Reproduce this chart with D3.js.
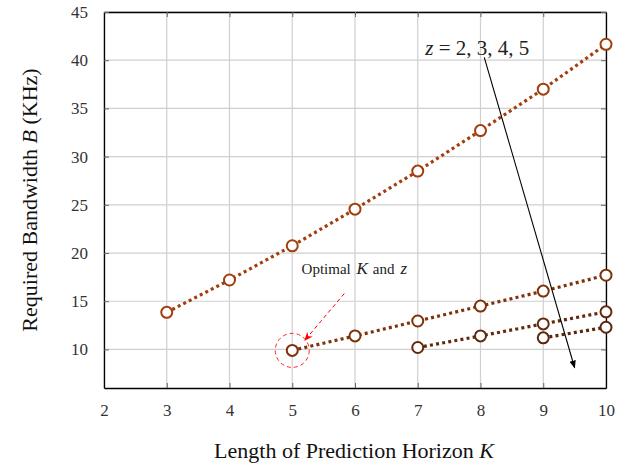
<!DOCTYPE html>
<html>
<head>
<meta charset="utf-8">
<script src="https://cdn.jsdelivr.net/npm/d3@7"></script>
<style>
  body { margin: 0; background: #fff; }
  text { font-family: "Liberation Serif", "DejaVu Serif", serif; fill: #222; }
</style>
</head>
<body>
<svg id="chart" width="633" height="466"></svg>
<script>
// horizon K per series, bandwidth B per series (z = 2,3,4,5)
var kz2=[3,4,5,6,7,8,9,10];
var bz2=[13.85,17.2,20.75,24.55,28.5,32.7,37.0,41.65];
var kz3=[5,6,7,8,9,10];
var bz3=[9.9,11.4,12.95,14.5,16.05,17.7];
var kz4=[7,8,9,10];
var bz4=[10.2,11.4,12.65,13.9];
var kz5=[9,10];
var bz5=[11.2,12.3];

var xticks=[2,3,4,5,6,7,8,9,10];
var yticks=[10,15,20,25,30,35,40,45];
var colors=["#a23e0d","#7e320c","#64290c","#5a260c"];

var series=[
  {k:kz2,b:bz2},
  {k:kz3,b:bz3},
  {k:kz4,b:bz4},
  {k:kz5,b:bz5}
];

var svg=d3.select("#chart");
var pl=104,pr=606,pt=12,pb=388;

var x=d3.scaleLinear().domain([2,10]).range([pl,pr]);
var y=d3.scaleLinear().domain([6,45]).range([pb,pt]);

// grid
svg.append("g").selectAll("line").data(xticks).enter().append("line")
  .attr("x1",function(d){return x(d)}).attr("x2",function(d){return x(d)})
  .attr("y1",pt).attr("y2",pb)
  .style("stroke","#cfcfcf").style("stroke-width",1.2);
svg.append("g").selectAll("line").data(yticks).enter().append("line")
  .attr("x1",pl).attr("x2",pr)
  .attr("y1",function(d){return y(d)}).attr("y2",function(d){return y(d)})
  .style("stroke","#cfcfcf").style("stroke-width",1.2);

// axes, ticks inward
var xb=svg.append("g").attr("transform","translate(0,"+pb+")")
  .call(d3.axisBottom(x).tickValues(xticks).tickSizeInner(-5).tickSizeOuter(0).tickPadding(16));
var xt=svg.append("g").attr("transform","translate(0,"+pt+")")
  .call(d3.axisTop(x).tickValues(xticks).tickSizeInner(-5).tickSizeOuter(0).tickFormat(""));
var yl=svg.append("g").attr("transform","translate("+pl+",0)")
  .call(d3.axisLeft(y).tickValues(yticks).tickSizeInner(-5).tickSizeOuter(0).tickPadding(16));
var yr=svg.append("g").attr("transform","translate("+pr+",0)")
  .call(d3.axisRight(y).tickValues(yticks).tickSizeInner(-5).tickSizeOuter(0).tickFormat(""));
[xb,xt,yl,yr].forEach(function(g){
  g.select(".domain").style("stroke","#000").style("stroke-width",1.3);
  g.selectAll(".tick line").style("stroke","#666").style("stroke-width",1);
  g.selectAll(".tick text").style("font-family","'Liberation Serif',serif").style("font-size","17px").style("fill","#333");
});

// lines and markers
var line=d3.line().x(function(d){return x(d[0])}).y(function(d){return y(d[1])});
series.forEach(function(s,i){
  var pts=s.k.map(function(k,j){return [k,s.b[j]]});
  svg.append("path").datum(pts).attr("d",line)
    .style("fill","none").style("stroke",colors[i])
    .style("stroke-width",3.2).style("stroke-dasharray","3,3.2");
  svg.append("g").selectAll("circle").data(pts).enter().append("circle")
    .attr("cx",function(d){return x(d[0])}).attr("cy",function(d){return y(d[1])})
    .attr("r",5.5)
    .style("fill","#fff").style("stroke",colors[i]).style("stroke-width",2);
});

// arrow markers
var defs=svg.append("defs");
defs.append("marker").attr("id","ab").attr("viewBox","0 0 10 10").attr("refX",9).attr("refY",5)
  .attr("markerWidth",8).attr("markerHeight",8).attr("orient","auto").attr("markerUnits","userSpaceOnUse")
  .append("path").attr("d","M0,1 L10,5 L0,9 Z").style("fill","#000");
defs.append("marker").attr("id","ar").attr("viewBox","0 0 10 10").attr("refX",9).attr("refY",5)
  .attr("markerWidth",9).attr("markerHeight",9).attr("orient","auto").attr("markerUnits","userSpaceOnUse")
  .append("path").attr("d","M0,1 L10,5 L0,9 L3,5 Z").style("fill","#f00");

// z annotation
var zt=svg.append("text").attr("x",x(7.95)).attr("y",55).attr("text-anchor","middle")
  .style("font-size","21px").style("fill","#222");
zt.append("tspan").style("font-style","italic").text("z");
zt.append("tspan").text(" = 2, 3, 4, 5");
svg.append("line")
  .attr("x1",x(8.06)).attr("y1",y(40.3)).attr("x2",x(9.5)).attr("y2",y(8.1))
  .style("stroke","#000").style("stroke-width",1.1).attr("marker-end","url(#ab)");

// optimal annotation
var ot=svg.append("text").attr("x",x(5.99)).attr("y",y(17.8)).attr("text-anchor","middle")
  .style("font-size","15px").style("fill","#222");
ot.append("tspan").text("Optimal ");
ot.append("tspan").attr("dx",2).style("font-style","italic").style("font-size","17px").text("K");
ot.append("tspan").attr("dx",5).text("and");
ot.append("tspan").attr("dx",6).style("font-style","italic").style("font-size","17px").text("z");
svg.append("line")
  .attr("x1",x(5.83)).attr("y1",y(15.8)).attr("x2",x(5.2)).attr("y2",y(10.95))
  .style("stroke","#f00").style("stroke-width",1).style("stroke-dasharray","4,3")
  .attr("marker-end","url(#ar)");
svg.append("circle").attr("cx",x(5)).attr("cy",y(bz3[0])).attr("r",17)
  .style("fill","none").style("stroke","#f22").style("stroke-width",1).style("stroke-dasharray","4,3");

// axis titles
var xl=svg.append("text").attr("x",354).attr("y",458).attr("text-anchor","middle")
  .style("font-size","22px").style("fill","#111");
xl.append("tspan").text("Length of Prediction Horizon ");
xl.append("tspan").style("font-style","italic").text("K");
var ylb=svg.append("text").attr("transform","translate(37,200) rotate(-90)")
  .attr("text-anchor","middle").style("font-size","22px").style("fill","#111");
ylb.append("tspan").text("Required Bandwidth ");
ylb.append("tspan").style("font-style","italic").text("B");
ylb.append("tspan").text(" (KHz)");
</script>
</body>
</html>
